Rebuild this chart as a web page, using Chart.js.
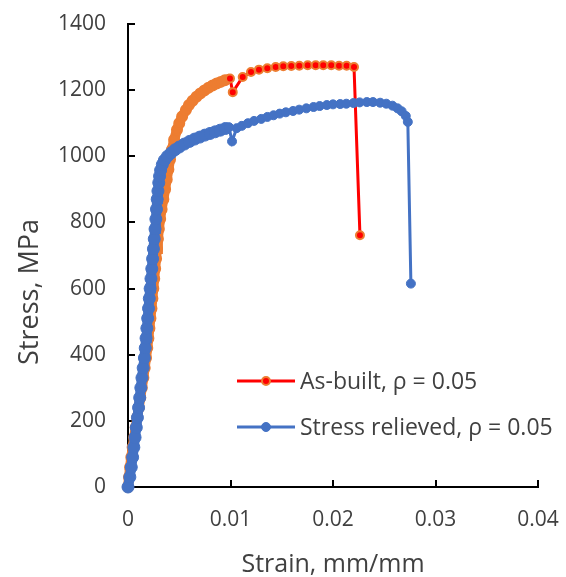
<!DOCTYPE html>
<html>
<head>
<meta charset="utf-8">
<title>Stress-strain</title>
<script src="https://cdn.jsdelivr.net/npm/chart.js@4.4.1/dist/chart.umd.min.js"></script>
<style>
  html, body { margin: 0; padding: 0; background: #fff; }
  #wrap { width: 566px; height: 577px; }
</style>
</head>
<body>
<div id="wrap"><canvas id="chart" width="566" height="577"></canvas></div>
<script>
// ── Tensile curves: as-built vs stress relieved ─────────────

const asBuiltStrain = [
  0, 0.00010, 0.00020, 0.00032, 0.00045, 0.00060, 0.00075, 0.00090, 0.00105, 0.00120,
  0.00135, 0.00150, 0.00163, 0.00176, 0.00188, 0.00199, 0.00209, 0.00219, 0.00229, 0.00238,
  0.00247, 0.00256, 0.00265, 0.00274, 0.00283, 0.00292, 0.00301, 0.00314, 0.00328, 0.00345,
  0.00362, 0.00378, 0.00394, 0.00410, 0.00428, 0.00450, 0.00478, 0.00500, 0.00528, 0.00565,
  0.00595, 0.00630, 0.00668, 0.00705, 0.00745, 0.00785, 0.00825, 0.00865, 0.00905, 0.00945,
  0.00995, 0.01022, 0.01119, 0.01200, 0.01278, 0.01359, 0.01441, 0.01515, 0.01593, 0.01671,
  0.01753, 0.01831, 0.01905, 0.01983, 0.02059, 0.02133, 0.02205, 0.02263,
];
const asBuiltStress = [
  0, 30, 60, 90, 120, 150, 180, 210, 240, 270,
  300, 330, 360, 390, 420, 450, 480, 510, 540, 570,
  600, 630, 660, 690, 720, 750, 780, 810, 840, 870,
  900, 930, 960, 990, 1020, 1050, 1080, 1100, 1120, 1140,
  1155, 1168, 1180, 1190, 1199, 1207, 1214, 1220, 1225, 1230,
  1235, 1194, 1240, 1255, 1262, 1266, 1270, 1272, 1273, 1274,
  1275, 1275, 1275, 1275, 1274, 1274, 1270, 761,
];

const relievedStrain = [
  0, 0.00018, 0.00032, 0.00045, 0.00057, 0.00069, 0.00081, 0.00092, 0.00103, 0.00114,
  0.00125, 0.00136, 0.00148, 0.00160, 0.00168, 0.00176, 0.00184, 0.00192, 0.00200, 0.00208,
  0.00216, 0.00224, 0.00232, 0.00240, 0.00248, 0.00256, 0.00264, 0.00272, 0.00278, 0.00285,
  0.00292, 0.00300, 0.00308, 0.00318, 0.00335, 0.00355, 0.00385, 0.00420, 0.00460, 0.00500,
  0.00550, 0.00600, 0.00650, 0.00700, 0.00750, 0.00800, 0.00850, 0.00900, 0.00950, 0.00985,
  0.01015, 0.01060, 0.01110, 0.01170, 0.01230, 0.01300, 0.01360, 0.01420, 0.01480, 0.01540,
  0.01610, 0.01670, 0.01740, 0.01810, 0.01870, 0.01940, 0.02000, 0.02070, 0.02130, 0.02200,
  0.02260, 0.02330, 0.02390, 0.02460, 0.02520, 0.02580, 0.02630, 0.02670, 0.02710, 0.02730,
  0.02760,
];
const relievedStress = [
  0, 30, 60, 90, 120, 150, 180, 210, 240, 270,
  300, 330, 360, 390, 420, 450, 480, 510, 540, 570,
  600, 630, 660, 690, 720, 750, 780, 810, 840, 870,
  895, 920, 940, 958, 975, 988, 1000, 1010, 1020, 1028,
  1037, 1045, 1052, 1058, 1064, 1069, 1074, 1079, 1084, 1088,
  1045, 1085, 1092, 1100, 1107, 1113, 1119, 1124, 1129, 1133,
  1137, 1141, 1145, 1149, 1152, 1155, 1157, 1158, 1159, 1161,
  1163, 1164, 1164, 1162, 1159, 1153, 1145, 1136, 1122, 1104,
  615,
];

const strainTicks = [0, 0.01, 0.02, 0.03, 0.04];
const stressTicks = [0, 200, 400, 600, 800, 1000, 1200, 1400];

const seriesLabels = ["As-built, \u03c1 = 0.05", "Stress relieved, \u03c1 = 0.05"];

const ORANGE = "#ED7D31";
const RED = "#FF0000";
const BLUE = "#4472C4";
const INK = "#404040";
const FONT = "'Open Sans', 'Noto Sans', sans-serif";

// strain below which the logged points are packed into a solid band
const AS_BUILT_DENSE = 0.0099;
const RELIEVED_DENSE = 0.0098;

const toPoints = (xs, ys) => xs.map((x, i) => ({ x, y: ys[i] }));

// inward tick marks on both axes (Excel style)
const innerTicks = {
  id: "innerTicks",
  beforeDatasetsDraw(chart) {
    const { ctx, chartArea: a, scales } = chart;
    ctx.save();
    ctx.strokeStyle = "#000";
    ctx.lineWidth = 2;
    ctx.beginPath();
    strainTicks.forEach((v) => {
      const px = Math.round(scales.x.getPixelForValue(v));
      ctx.moveTo(px, a.bottom);
      ctx.lineTo(px, a.bottom - 7);
    });
    stressTicks.forEach((v) => {
      const py = Math.round(scales.y.getPixelForValue(v));
      ctx.moveTo(a.left, py);
      ctx.lineTo(a.left + 7, py);
    });
    ctx.stroke();
    ctx.restore();
  },
};

// vertical axis title, sitting a bit below the plot's middle
const stressTitle = {
  id: "stressTitle",
  afterDraw(chart) {
    const { ctx } = chart;
    ctx.save();
    ctx.translate(30, 292);
    ctx.rotate(-Math.PI / 2);
    ctx.font = `27px ${FONT}`;
    ctx.fillStyle = INK;
    ctx.textAlign = "center";
    ctx.textBaseline = "middle";
    ctx.fillText("Stress, MPa", 0, 0);
    ctx.restore();
  },
};

// legend inside the plot: line sample with a marker, then the label
const insetLegend = {
  id: "insetLegend",
  afterDraw(chart, args, opts) {
    const { ctx } = chart;
    ctx.save();
    ctx.font = `23px ${FONT}`;
    ctx.textBaseline = "middle";
    chart.data.datasets.forEach((ds, i) => {
      const y = opts.top + i * opts.rowGap;
      const x0 = opts.left;
      const x1 = x0 + opts.lineWidth;
      ctx.strokeStyle = ds.borderColor;
      ctx.lineWidth = 3;
      ctx.beginPath();
      ctx.moveTo(x0, y);
      ctx.lineTo(x1, y);
      ctx.stroke();
      ctx.beginPath();
      ctx.arc((x0 + x1) / 2, y, ds.legendRadius, 0, Math.PI * 2);
      ctx.fillStyle = ds.legendFill;
      ctx.fill();
      ctx.lineWidth = ds.pointBorderWidth;
      ctx.strokeStyle = ds.pointBorderColor;
      ctx.stroke();
      ctx.fillStyle = INK;
      ctx.fillText(ds.label, x1 + 5, y + 1);
    });
    ctx.restore();
  },
};

new Chart(document.getElementById("chart"), {
  type: "scatter",
  data: {
    datasets: [
      {
        label: seriesLabels[0],
        data: toPoints(asBuiltStrain, asBuiltStress),
        showLine: true,
        borderColor: RED,
        borderWidth: 3,
        segment: {
          borderColor: (c) => (c.p0.parsed.x < AS_BUILT_DENSE ? ORANGE : RED),
          borderWidth: (c) => (c.p0.parsed.x < AS_BUILT_DENSE ? 10 : 3),
        },
        pointRadius: (c) => (c.raw && c.raw.x < AS_BUILT_DENSE ? 5 : 4),
        pointBorderWidth: 2,
        pointBorderColor: ORANGE,
        pointBackgroundColor: (c) => (c.raw && c.raw.x < AS_BUILT_DENSE ? ORANGE : RED),
        legendFill: RED,
        legendRadius: 4,
        clip: false,
        order: 1,
      },
      {
        label: seriesLabels[1],
        data: toPoints(relievedStrain, relievedStress),
        showLine: true,
        borderColor: BLUE,
        borderWidth: 3,
        segment: {
          borderWidth: (c) => (c.p0.parsed.x < RELIEVED_DENSE ? 10 : 3),
        },
        pointRadius: (c) => (c.raw && c.raw.x < RELIEVED_DENSE ? 6 : 4.5),
        pointBorderWidth: 1,
        pointBorderColor: BLUE,
        pointBackgroundColor: BLUE,
        legendFill: BLUE,
        legendRadius: 4.5,
        clip: false,
        order: 0,
      },
    ],
  },
  options: {
    responsive: false,
    animation: false,
    events: [],
    layout: { padding: { top: 24, right: 28, left: 0, bottom: 0 } },
    scales: {
      x: {
        type: "linear",
        min: 0,
        max: 0.04,
        afterBuildTicks: (s) => { s.ticks = strainTicks.map((v) => ({ value: v })); },
        afterFit: (s) => {
          s.height = 90;
          s.paddingLeft = 0;
          s.paddingRight = 0;
        },
        grid: { display: false, drawTicks: false },
        border: { display: true, color: "#000", width: 2 },
        ticks: {
          color: INK,
          padding: 20,
          font: { family: FONT, size: 21 },
          callback: (v) => String(v),
        },
        title: {
          display: true,
          text: "Strain, mm/mm",
          color: INK,
          font: { family: FONT, size: 25 },
          padding: { top: 0, bottom: -3 },
        },
      },
      y: {
        type: "linear",
        min: 0,
        max: 1400,
        afterBuildTicks: (s) => { s.ticks = stressTicks.map((v) => ({ value: v })); },
        afterFit: (s) => {
          s.width = 128;
          s.paddingTop = 0;
          s.paddingBottom = 0;
        },
        grid: { display: false, drawTicks: false },
        border: { display: true, color: "#000", width: 2 },
        ticks: {
          color: INK,
          padding: 22,
          font: { family: FONT, size: 21 },
          callback: (v) => String(v),
        },
      },
    },
    plugins: {
      legend: { display: false },
      tooltip: { enabled: false },
      insetLegend: { left: 237, top: 381, rowGap: 46, lineWidth: 58 },
    },
  },
  plugins: [innerTicks, stressTitle, insetLegend],
});
</script>
</body>
</html>
